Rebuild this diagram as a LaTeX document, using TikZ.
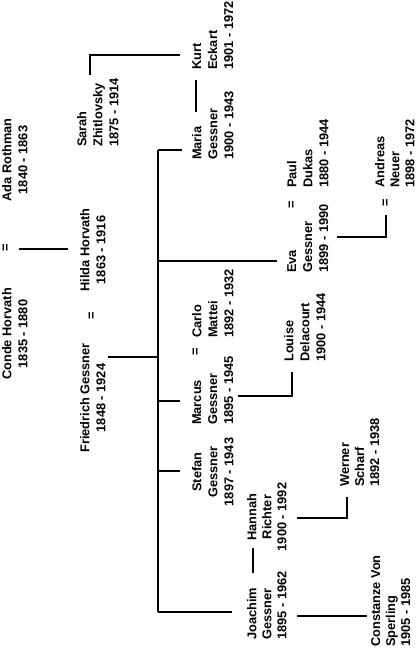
\documentclass[tikz,border=0pt]{standalone}
\usepackage{fontspec}
\setmainfont{Liberation Sans}
\begin{document}
\begin{tikzpicture}[x=1pt,y=-1pt,
  person/.style={rotate=90, inner sep=0pt, font=\fontsize{12.8}{16}\selectfont\bfseries, align=left, anchor=north west},
  personc/.style={person, align=center, anchor=north},
  tight/.style={font=\fontsize{12.8}{15}\selectfont\bfseries},
  link/.style={line width=1.9pt, line cap=butt},
  eqs/.style={rotate=90, inner sep=0pt, font=\fontsize{12.8}{16}\selectfont\bfseries}]
\useasboundingbox (0,0) rectangle (418,650);
\fill[white] (0,0) rectangle (418,650);
% persons
\node[personc] (conde) at (2,334) {Conde Horvath\\1835 - 1880};
\node[personc] (ada) at (2,160) {Ada Rothman\\1840 - 1863};
\node[personc] (hilda) at (80,250) {Hilda Horvath\\1863 - 1916};
\node[personc] (friedrich) at (80,398) {Friedrich Gessner\\1848 - 1924};
\node[person] (sarah) at (77,147) {Sarah\\Zhitlovsky\\1875 - 1914};
\node[person] (kurt) at (192,70) {Kurt\\Eckart\\1901 - 1972};
\node[person] (maria) at (192,160) {Maria\\Gessner\\1900 - 1943};
\node[person] (carlo) at (192,338) {Carlo\\Mattei\\1892 - 1932};
\node[person] (marcus) at (192,425) {Marcus\\Gessner\\1895 - 1945};
\node[personc] (stefan) at (192,472) {Stefan\\Gessner\\1897 - 1943};
\node[person] (eva) at (287,273) {Eva\\Gessner\\1899 - 1990};
\node[person] (paul) at (287,188) {Paul\\Dukas\\1880 - 1944};
\node[person] (louise) at (284,362) {Louise\\Delacourt\\1900 - 1944};
\node[person, tight] (andreas) at (375,188) {Andreas\\Neuer\\1898 - 1972};
\node[personc, tight] (hannah) at (247,517) {Hannah\\Richter\\1900 - 1992};
\node[person, tight] (werner) at (340,487) {Werner\\Scharf\\1892 - 1938};
\node[person, tight] (joachim) at (247,640) {Joachim\\Gessner\\1895 - 1962};
\node[person, tight] (constanze) at (371,647) {Constanze Von\\Sperling\\1905 - 1985};
% marriage signs
\node[eqs] (eq1) at (6,248) {=};
\node[eqs] (eq2) at (92,316) {=};
\node[eqs] (eq3) at (196,352) {=};
\node[eqs] (eq4) at (292,205) {=};
\node[eqs] (eq5) at (386,203) {=};
% connector points
\coordinate (hA) at (19,249);   \coordinate (hB) at (68,249);
\coordinate (spT) at (158,150); \coordinate (spB) at (158,612);
\coordinate (fA) at (108,357);  \coordinate (fB) at (158,357);
\coordinate (mT) at (182,150);
\coordinate (evL) at (158,261); \coordinate (evT) at (277,261);
\coordinate (maL) at (158,401); \coordinate (maT) at (180,401);
\coordinate (stL) at (158,471); \coordinate (stT) at (180,471);
\coordinate (joT) at (232,612);
\coordinate (kA) at (180,55); \coordinate (kB) at (90,55); \coordinate (kC) at (90,75);
\coordinate (dA) at (196,80); \coordinate (dB) at (196,112);
\coordinate (lA) at (238,396); \coordinate (lB) at (292,396); \coordinate (lC) at (292,372);
\coordinate (aA) at (337,237); \coordinate (aB) at (386,237); \coordinate (aC) at (386,215);
\coordinate (jdA) at (253,548); \coordinate (jdB) at (253,573);
\coordinate (wA) at (297,518); \coordinate (wB) at (347,518); \coordinate (wC) at (347,497);
\coordinate (cA) at (297,616); \coordinate (cB) at (367,616);
% connectors
\draw[link] (hA) -- (hB);
\draw[link] (spT) -- (spB);
\draw[link] (fA) -- (fB);
\draw[link] (spT) -- (mT);
\draw[link] (evL) -- (evT);
\draw[link] (maL) -- (maT);
\draw[link] (stL) -- (stT);
\draw[link] (spB) -- (joT);
\draw[link] (kA) -- (kB) -- (kC);
\draw[link] (dA) -- (dB);
\draw[link] (lA) -- (lB) -- (lC);
\draw[link] (aA) -- (aB) -- (aC);
\draw[link] (jdA) -- (jdB);
\draw[link] (wA) -- (wB) -- (wC);
\draw[link] (cA) -- (cB);
\end{tikzpicture}
\end{document}
